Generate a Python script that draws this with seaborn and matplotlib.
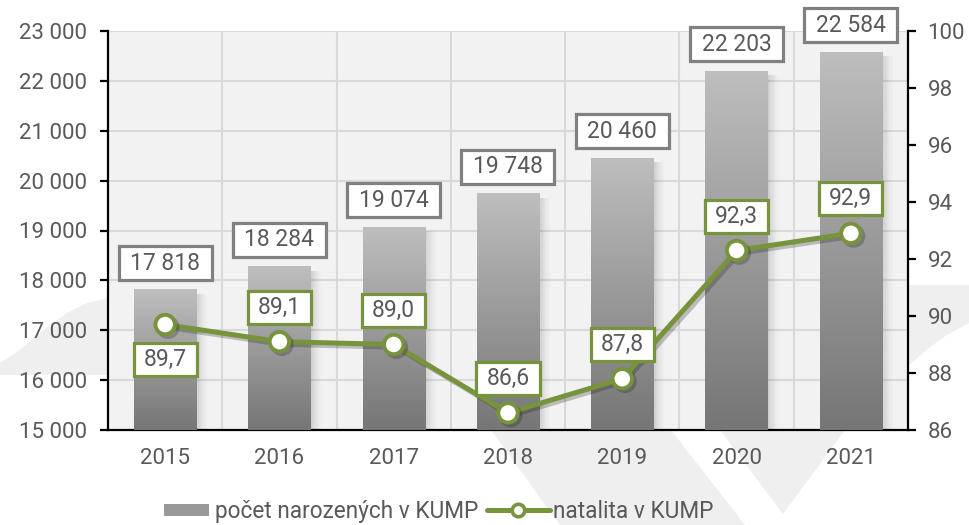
import numpy as np
import pandas as pd
import matplotlib
matplotlib.use("Agg")
import matplotlib.pyplot as plt
import seaborn as sns
from matplotlib.patches import Polygon, Rectangle, Patch
from matplotlib.lines import Line2D
from matplotlib.path import Path
from matplotlib.colors import LinearSegmentedColormap
from matplotlib.legend_handler import HandlerPatch
import matplotlib.patheffects as pe
from matplotlib.ticker import FuncFormatter

# ---- data ----
years = ["2015", "2016", "2017", "2018", "2019", "2020", "2021"]
births = [17818, 18284, 19074, 19748, 20460, 22203, 22584]
natality = [89.7, 89.1, 89.0, 86.6, 87.8, 92.3, 92.9]
bar_series = "počet narozených v KUMP"
line_series = "natalita v KUMP"
left_ticks = [15000, 16000, 17000, 18000, 19000, 20000, 21000, 22000, 23000]
right_ticks = [86, 88, 90, 92, 94, 96, 98, 100]

GREEN = "#77933c"
TXT = "#595959"
W, H = 969, 525

sns.set_theme(style="white")
plt.rcParams['font.family'] = ['Roboto', 'DejaVu Sans']

fig = plt.figure(figsize=(W / 100, H / 100), dpi=100)
fig.patch.set_facecolor("white")


def fpt(x, y):
    return (x / W, 1 - y / H)


def rect_box(padx, pady):
    def style(x0, y0, width, height, mutation_size):
        x1, y1 = x0 - padx, y0 - pady
        x2, y2 = x0 + width + padx, y0 + height + pady
        return Path([(x1, y1), (x2, y1), (x2, y2), (x1, y2), (x1, y1)], closed=True)
    return style


# faint background watermark shapes
wm = "#efefef"
shapes = [
    [(0, 375), (108, 375), (108, 298), (87, 303), (67, 313), (40, 333), (20, 350), (0, 363)],
    [(907, 285), (969, 285), (969, 323), (947, 335), (930, 347), (907, 367)],
    [(491, 430), (671, 430), (745, 525), (560, 525)],
    [(720, 430), (845, 430), (783, 514)],
]
for s in shapes:
    fig.add_artist(Polygon([fpt(*p) for p in s], closed=True, transform=fig.transFigure,
                           facecolor=wm, edgecolor="none", zorder=-5))

ax = fig.add_axes([108 / W, (H - 430) / H, 800 / W, 399 / H])
ax.set_facecolor("#f2f2f2")

df = pd.DataFrame({"rok": years, "narozeni": births})
sns.barplot(data=df, x="rok", y="narozeni", ax=ax, color="#9a9a9a", width=0.545,
            saturation=1, zorder=3, linewidth=0)

ax.set_xlim(-0.5, 6.5)
ax.set_ylim(left_ticks[0], left_ticks[-1])

# grid
ax.set_yticks(left_ticks)
ax.yaxis.grid(True, color="#d9d9d9", lw=1.5, zorder=0)
for xb in np.arange(0.5, 6.5, 1.0):
    ax.axvline(xb, color="#d9d9d9", lw=1.5, zorder=0)
ax.set_axisbelow(True)

LABEL_FS = 16.5
# gradient + shadow for bars
grad = np.linspace(0, 1, 256).reshape(-1, 1)
cmap = LinearSegmentedColormap.from_list("g", ["#767676", "#bebebe"])
px = 7 / 800.0
ymin = left_ticks[0]
for p, val in zip(list(ax.patches), births):
    x0, w = p.get_x(), p.get_width()
    top = val
    n = 10
    for i in range(n):
        ax.add_patch(Rectangle((x0 + w + i * 1.2 * px, ymin), 1.2 * px, top - ymin - 90,
                               facecolor="k", alpha=0.16 * (1 - i / n) ** 1.5,
                               edgecolor="none", zorder=2.5))
    im = ax.imshow(grad, extent=[x0, x0 + w, ymin, top], origin="lower", cmap=cmap,
                   aspect="auto", zorder=3.5)
    im.set_clip_path(p)
    ax.annotate(f"{val:,}".replace(",", " "), (x0 + w / 2, top), xytext=(0, 19),
                textcoords="offset points", ha="center", va="center", fontsize=LABEL_FS,
                color=TXT, zorder=6,
                bbox=dict(boxstyle=rect_box(11.5, 5.5), fc="white", ec="#808080", lw=2.3))

ax.set_xlim(-0.5, 6.5)
ax.set_ylim(left_ticks[0], left_ticks[-1])
ax.yaxis.set_major_formatter(FuncFormatter(lambda v, _: f"{int(v):,}".replace(",", " ")))
ax.set_xlabel("")
ax.set_ylabel("")

for side in ["top", "right"]:
    ax.spines[side].set_visible(False)
for side in ["left", "bottom"]:
    ax.spines[side].set_color("black")
    ax.spines[side].set_linewidth(1.6)
ax.tick_params(axis="y", which="major", direction="out", length=6, width=1.6,
               color="black", labelsize=16, labelcolor=TXT, pad=9, left=True)
ax.tick_params(axis="x", length=0, labelsize=16, labelcolor=TXT, pad=13)

# line on secondary axis
ax2 = ax.twinx()
shadow = [pe.SimpleLineShadow(offset=(2, -2), shadow_color="k", alpha=0.25), pe.Normal()]
sns.lineplot(x=np.arange(len(years)), y=natality, ax=ax2, color=GREEN, lw=3.6,
             marker="o", markersize=14, markerfacecolor="white",
             markeredgecolor=GREEN, markeredgewidth=2.8, zorder=5,
             path_effects=shadow)
ax2.set_ylim(right_ticks[0], right_ticks[-1])
ax2.set_yticks(right_ticks)
ax2.set_ylabel("")
for side in ["top", "left", "bottom"]:
    ax2.spines[side].set_visible(False)
ax2.spines["right"].set_color("black")
ax2.spines["right"].set_linewidth(1.6)
ax2.tick_params(axis="y", direction="out", length=6, width=1.6, color="black",
                labelsize=16, labelcolor=TXT, pad=8, right=True)
ax2.grid(False)

offsets = [-25, 24.8, 24.8, 24.8, 24.8, 24.8, 24.8]
for i, (v, off) in enumerate(zip(natality, offsets)):
    ax2.annotate(f"{v:.1f}".replace(".", ","), (i, v), xytext=(0, off),
                 textcoords="offset points", ha="center", va="center", fontsize=LABEL_FS,
                 color=TXT, zorder=7,
                 bbox=dict(boxstyle=rect_box(10, 5), fc="white", ec=GREEN, lw=2.3))


# legend
def bar_handle(legend, orig_handle, xdescent, ydescent, width, height, fontsize):
    w, h = 32.5, 8.6
    return Rectangle((-xdescent + width - w - 2, -ydescent + (height - h) / 2), w, h)


handles = [Patch(facecolor="#999999", edgecolor="none"),
           Line2D([], [], color=GREEN, lw=3.6, marker="o", markersize=9,
                  markerfacecolor="white", markeredgecolor=GREEN, markeredgewidth=2.6)]
fig.legend(handles, [bar_series, line_series], loc="center", bbox_to_anchor=(0.445, 0.026),
           ncol=2, frameon=False, fontsize=16.3, handlelength=2.8, handleheight=0.6,
           columnspacing=0.35, handletextpad=0.15, labelcolor=TXT,
           handler_map={Patch: HandlerPatch(patch_func=bar_handle)})

fig.savefig("out.png", dpi=100, facecolor="white")
